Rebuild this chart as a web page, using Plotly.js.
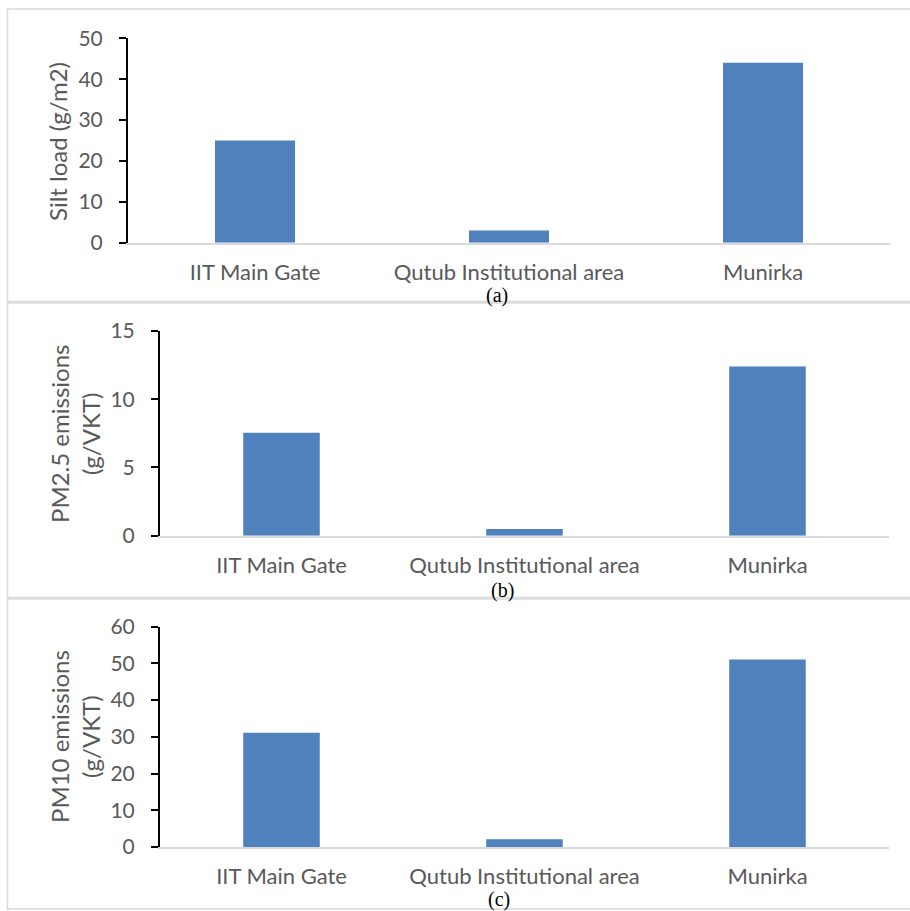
<!DOCTYPE html>
<html>
<head>
<meta charset="utf-8">
<script src="https://cdn.plot.ly/plotly-3.0.1.min.js"></script>
<style>html,body{margin:0;padding:0;background:#fff;}#chart{width:910px;height:911px;}</style>
</head>
<body>
<div id="chart"></div>
<script>
const categories = ["IIT Main Gate", "Qutub Institutional area", "Munirka"];
const siltLoad = [25, 3, 44];
const pm25Emissions = [7.55, 0.5, 12.4];
const pm10Emissions = [31.1, 2.1, 51.1];
const yTitles = ["Silt load (g/m2)", "PM2.5 emissions<br>(g/VKT)", "PM10 emissions<br>(g/VKT)"];
const captions = ["(a)", "(b)", "(c)"];

const W = 910, H = 911;
const px = v => v / W;
const py = v => 1 - v / H;

const barColor = "#4f81bd";
const textGray = "#595959";
const axisFont = {family: "Lato, 'Open Sans', sans-serif", size: 21, color: textGray};
const catFont = {family: "Lato, 'Open Sans', sans-serif", size: 22, color: textGray};

function bar(y, xa, ya) {
  return {type: "bar", x: categories, y: y, xaxis: xa, yaxis: ya,
          marker: {color: barColor}, hoverinfo: "skip", showlegend: false};
}

const data = [
  bar(siltLoad, "x", "y"),
  bar(pm25Emissions, "x2", "y2"),
  bar(pm10Emissions, "x3", "y3")
];

function xa(domain, anchor) {
  return {domain: domain, anchor: anchor, showline: true, linecolor: "#d9d9d9", linewidth: 2,
          ticks: "", showgrid: false, zeroline: false, tickfont: catFont,
          ticklabelstandoff: 9, fixedrange: true};
}
function ya(domain, anchor, range, dtick) {
  return {domain: domain, anchor: anchor, range: range, dtick: dtick, showline: true,
          linecolor: "#000000", linewidth: 2, ticks: "outside", ticklen: 7, tickwidth: 2,
          tickcolor: "#000000", showgrid: false, zeroline: false, tickfont: axisFont,
          ticklabelstandoff: 12, fixedrange: true};
}

const titleFont = {family: "Lato, 'Open Sans', sans-serif", size: 24, color: textGray};
const capFont = {family: "'Liberation Serif', 'Times New Roman', serif", size: 20, color: "#000000"};

const annotations = [
  {x: px(58), y: py(141), text: yTitles[0]},
  {x: px(75), y: py(434), text: yTitles[1]},
  {x: px(75), y: py(737), text: yTitles[2]}
].map(a => Object.assign({xref: "paper", yref: "paper", textangle: -90, showarrow: false,
  xanchor: "center", yanchor: "middle", font: titleFont}, a));

[[497, 295], [502, 590], [499, 899]].forEach((p, i) => {
  annotations.push({xref: "paper", yref: "paper", x: px(p[0]), y: py(p[1]), text: captions[i],
    showarrow: false, xanchor: "center", yanchor: "middle", font: capFont,
    borderpad: 0});
});

const boxes = [[9, 301.5], [303, 597.5], [599, 909]];
const shapes = boxes.map(b => ({type: "rect", xref: "paper", yref: "paper",
  x0: px(7.5), x1: px(915), y0: py(b[0]), y1: py(b[1]),
  line: {color: "#d9d9d9", width: 1.5}, fillcolor: "rgba(0,0,0,0)", layer: "below"}));

const layout = {
  width: W, height: H,
  margin: {l: 0, r: 0, t: 0, b: 0},
  paper_bgcolor: "#ffffff", plot_bgcolor: "rgba(0,0,0,0)",
  bargap: 0.685,
  showlegend: false,
  xaxis: xa([px(128), px(890)], "y"),
  yaxis: ya([py(242.7), py(38.3)], "x", [0, 50], 10),
  xaxis2: xa([px(160), px(889)], "y2"),
  yaxis2: ya([py(535.7), py(331)], "x2", [0, 15], 5),
  xaxis3: xa([px(160), px(889)], "y3"),
  yaxis3: ya([py(847), py(626.7)], "x3", [0, 60], 10),
  annotations: annotations,
  shapes: shapes
};

Plotly.newPlot("chart", data, layout, {displayModeBar: false, staticPlot: true});
</script>
</body>
</html>
